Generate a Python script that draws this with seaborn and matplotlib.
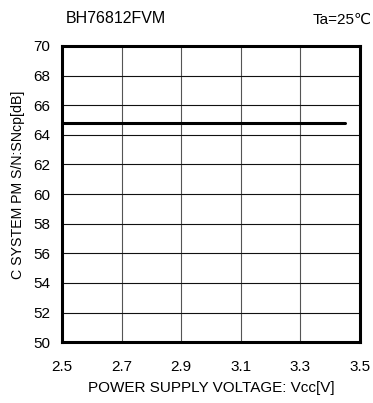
import matplotlib
matplotlib.use("Agg")
import matplotlib.pyplot as plt
import seaborn as sns
import pandas as pd

# data
vcc = [2.5, 3.45]
sn = [64.8, 64.8]
x_ticks = [2.5, 2.7, 2.9, 3.1, 3.3, 3.5]
y_ticks = [50, 52, 54, 56, 58, 60, 62, 64, 66, 68, 70]

df = pd.DataFrame({'Vcc': vcc, 'SN': sn})

sns.set_style('white')
plt.rcParams['font.family'] = ['Liberation Sans', 'DejaVu Sans']
plt.rcParams['text.color'] = 'black'
plt.rcParams['axes.labelcolor'] = 'black'
plt.rcParams['xtick.color'] = 'black'
plt.rcParams['ytick.color'] = 'black'

fig = plt.figure(figsize=(3.73, 4.03), dpi=100)
ax = fig.add_axes([0.166, 0.151, 0.799, 0.735])

sns.lineplot(data=df, x='Vcc', y='SN', color='black', linewidth=2.2, ax=ax)

ax.set_xlim(2.5, 3.5)
ax.set_ylim(50, 70)
ax.set_xticks(x_ticks)
ax.set_yticks(y_ticks)
ax.set_xticklabels([f'{v:.1f}' for v in x_ticks], fontsize=11)
ax.set_yticklabels([str(v) for v in y_ticks], fontsize=11)
ax.tick_params(axis='x', length=0, pad=13)
ax.tick_params(axis='y', length=0, pad=8.5)
ax.xaxis.grid(True, color='#555555', linewidth=0.8)
ax.yaxis.grid(True, color='#111111', linewidth=0.8)
for s in ax.spines.values():
    s.set_visible(True)
    s.set_color('black')
    s.set_linewidth(2.2)

ax.set_xlabel('POWER SUPPLY VOLTAGE: Vcc[V]', fontsize=11, labelpad=5)
ax.set_ylabel('C SYSTEM PM S/N:SNcp[dB]', fontsize=10.2)
ax.yaxis.set_label_coords(-0.125, 0.53)

fig.text(0.175, 0.955, 'BH76812FVM', fontsize=11.5, ha='left', va='center')
fig.text(0.997, 0.952, 'Ta=25℃', fontsize=11, ha='right', va='center')

fig.savefig('out.png', dpi=100)
